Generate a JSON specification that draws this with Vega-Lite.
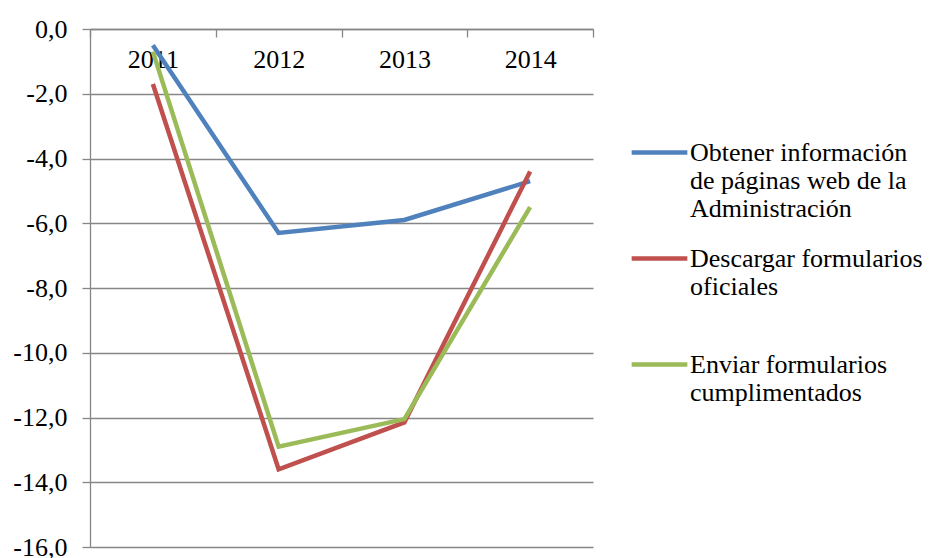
{
  "$schema": "https://vega.github.io/schema/vega-lite/v6.json",
  "autosize": "none",
  "width": 503,
  "height": 518,
  "padding": {"left": 90, "top": 29, "right": 340, "bottom": 11},
  "background": "white",
  "config": {"view": {"stroke": null}},
  "data": {"values": [
    {"year": "2011", "serie": "Obtener información de páginas web de la Administración", "v": -0.5},
    {"year": "2012", "serie": "Obtener información de páginas web de la Administración", "v": -6.3},
    {"year": "2013", "serie": "Obtener información de páginas web de la Administración", "v": -5.9},
    {"year": "2014", "serie": "Obtener información de páginas web de la Administración", "v": -4.7},
    {"year": "2011", "serie": "Descargar formularios oficiales", "v": -1.7},
    {"year": "2012", "serie": "Descargar formularios oficiales", "v": -13.6},
    {"year": "2013", "serie": "Descargar formularios oficiales", "v": -12.15},
    {"year": "2014", "serie": "Descargar formularios oficiales", "v": -4.4},
    {"year": "2011", "serie": "Enviar formularios cumplimentados", "v": -0.7},
    {"year": "2012", "serie": "Enviar formularios cumplimentados", "v": -12.9},
    {"year": "2013", "serie": "Enviar formularios cumplimentados", "v": -12.05},
    {"year": "2014", "serie": "Enviar formularios cumplimentados", "v": -5.5}
  ]},
  "mark": {"type": "line", "strokeWidth": 4.5, "strokeJoin": "miter"},
  "encoding": {
    "x": {
      "field": "year", "type": "ordinal",
      "scale": {"type": "band", "paddingInner": 0, "paddingOuter": 0},
      "axis": {
        "orient": "bottom", "offset": -518, "title": null, "labelAngle": 0,
        "tickBand": "extent", "tickSize": 8, "tickColor": "#868686", "domainColor": "#868686", "domainWidth": 1.3, "tickWidth": 1.3,
        "labelFont": "Liberation Serif", "labelFontSize": 26, "labelColor": "#000000", "labelPadding": 9,
        "grid": false
      }
    },
    "y": {
      "field": "v", "type": "quantitative",
      "scale": {"domain": [-16, 0], "nice": false, "zero": false},
      "axis": {
        "title": null, "values": [0, -2, -4, -6, -8, -10, -12, -14, -16],
        "labelExpr": "replace(replace(format(datum.value, '.1f'), '.', ','), '\u2212', '-')",
        "labelFont": "Liberation Serif", "labelFontSize": 26, "labelColor": "#000000", "labelPadding": 15,
        "tickSize": 8, "tickColor": "#868686", "tickWidth": 1.3,
        "domainColor": "#868686", "domainWidth": 1.3,
        "grid": true, "gridColor": "#868686", "gridWidth": 1.3
      }
    },
    "color": {
      "field": "serie", "type": "nominal",
      "scale": {
        "domain": ["Obtener información de páginas web de la Administración", "Descargar formularios oficiales", "Enviar formularios cumplimentados"],
        "range": ["#4F81BD", "#C0504D", "#9BBB59"]
      },
      "legend": {
        "title": null, "orient": "none", "legendX": 539, "legendY": 93,
        "symbolType": "stroke", "symbolSize": 3100, "symbolStrokeWidth": 4.5,
        "labelFont": "Liberation Serif", "labelFontSize": 26, "labelColor": "#000000",
        "labelLimit": 400, "labelOffset": 0, "rowPadding": 6,
        "labelExpr": "datum.label == 'Obtener información de páginas web de la Administración' ? ['Obtener información', 'de páginas web de la', 'Administración'] : datum.label == 'Descargar formularios oficiales' ? ['Descargar formularios', 'oficiales', ' '] : ['Enviar formularios', 'cumplimentados', ' ']"
      }
    }
  }
}
